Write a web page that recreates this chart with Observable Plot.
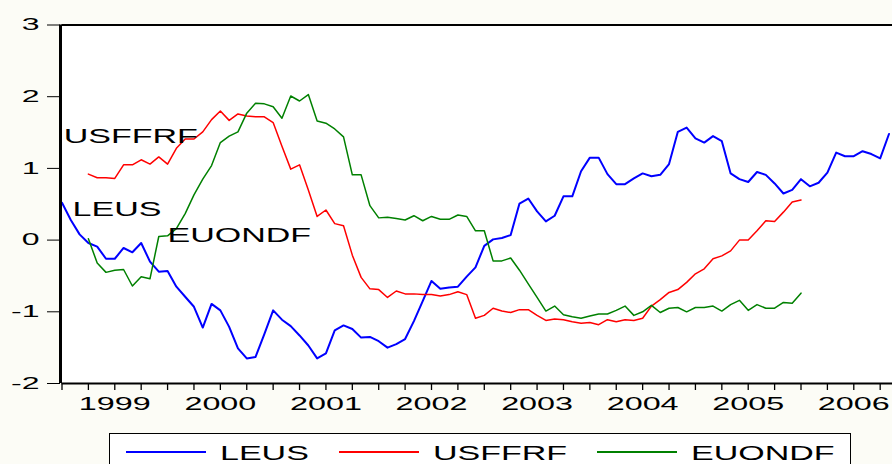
<!DOCTYPE html>
<html><head><meta charset="utf-8">
<script src="https://cdn.jsdelivr.net/npm/d3@7"></script>
<script src="https://cdn.jsdelivr.net/npm/@observablehq/plot@0.6"></script>
<style>
html,body{margin:0;padding:0;background:#fcfcf6;width:892px;height:464px;overflow:hidden;font-family:"Liberation Sans",Arial,sans-serif;}
#wrap{position:relative;width:892px;height:464px;}
#legend{position:absolute;left:109px;top:433px;width:742px;height:40px;border:1.5px solid #000;background:#fff;box-sizing:border-box}
.item{position:absolute;top:0;height:38px}
.sw{position:absolute;top:17px;left:0;width:80px;height:0;border-top:2px solid}
.lab{position:absolute;left:94px;top:9px;font-size:20px;line-height:20px;transform:scaleX(1.7);transform-origin:0 0;white-space:nowrap;color:#000}
</style></head><body><div id="wrap"><div id="chart"></div><div id="legend"></div></div>
<script>
// monthly data starting 1999-01 (index 0)
const years = [1999, 2000, 2001, 2002, 2003, 2004, 2005, 2006];
const yTicks = [-2, -1, 0, 1, 2, 3];
const seriesNames = ["LEUS", "USFFRF", "EUONDF"];
const seriesColors = ["#0000ff", "#ff0000", "#008000"];
const leusStart = 0;   // 1999M01
const leus = [0.52,0.28,0.08,-0.04,-0.09,-0.26,-0.26,-0.11,-0.17,-0.04,
  -0.30,-0.44,-0.43,-0.65,-0.79,-0.93,-1.22,-0.89,-0.98,-1.21,
  -1.51,-1.65,-1.63,-1.31,-0.98,-1.11,-1.20,-1.33,-1.47,-1.65,
  -1.58,-1.26,-1.19,-1.24,-1.36,-1.35,-1.41,-1.50,-1.45,-1.38,
  -1.13,-0.85,-0.57,-0.68,-0.66,-0.65,-0.51,-0.38,-0.08,0.01,
  0.03,0.07,0.51,0.58,0.40,0.26,0.34,0.61,0.61,0.96,
  1.15,1.15,0.92,0.78,0.78,0.86,0.93,0.89,0.91,1.06,
  1.51,1.57,1.42,1.36,1.45,1.38,0.93,0.85,0.81,0.95,
  0.91,0.79,0.65,0.70,0.85,0.75,0.80,0.94,1.22,1.17,
  1.17,1.24,1.20,1.14,1.48];
const usffrfStart = 3; // 1999M04
const usffrf = [0.92,0.87,0.87,0.86,1.05,1.05,1.12,1.06,1.16,1.06,
  1.28,1.41,1.41,1.51,1.68,1.80,1.67,1.76,1.73,1.72,
  1.72,1.64,1.31,0.99,1.05,0.70,0.33,0.42,0.23,0.20,
  -0.21,-0.52,-0.68,-0.69,-0.80,-0.71,-0.75,-0.75,-0.76,-0.76,
  -0.78,-0.76,-0.72,-0.76,-1.09,-1.05,-0.95,-0.99,-1.01,-0.97,
  -0.97,-1.05,-1.12,-1.10,-1.11,-1.14,-1.16,-1.15,-1.18,-1.11,
  -1.14,-1.11,-1.12,-1.09,-0.92,-0.83,-0.73,-0.69,-0.59,-0.47,
  -0.40,-0.26,-0.22,-0.15,0.00,0.00,0.13,0.27,0.26,0.39,
  0.53,0.56];
const euondfStart = 3; // 1999M04
const euondf = [0.02,-0.32,-0.45,-0.42,-0.41,-0.64,-0.51,-0.54,0.05,0.06,
  0.16,0.37,0.63,0.85,1.04,1.36,1.45,1.51,1.77,1.91,
  1.90,1.86,1.70,2.01,1.94,2.03,1.66,1.63,1.55,1.44,
  0.91,0.91,0.48,0.31,0.32,0.30,0.28,0.34,0.27,0.33,
  0.29,0.29,0.35,0.33,0.13,0.13,-0.29,-0.29,-0.25,-0.42,
  -0.61,-0.80,-0.99,-0.92,-1.04,-1.07,-1.09,-1.06,-1.03,-1.03,
  -0.98,-0.92,-1.05,-1.00,-0.91,-1.01,-0.95,-0.94,-1.00,-0.94,
  -0.94,-0.92,-0.99,-0.90,-0.84,-0.98,-0.90,-0.95,-0.95,-0.87,
  -0.88,-0.74];
// in-chart series labels (month index, value)
const labelNames = ["USFFRF", "LEUS", "EUONDF"];
const labelT = [0.2, 1.2, 12];
const labelV = [1.35, 0.33, -0.03];

const rows = [];
[[leus, leusStart], [usffrf, usffrfStart], [euondf, euondfStart]].forEach(([arr, s], k) => {
  arr.forEach((v, i) => rows.push({t: s + i, v, series: seriesNames[k]}));
});
const labels = labelNames.map((n, i) => ({n, t: labelT[i], v: labelV[i]}));
const quarterTicks = d3.range(0, 95, 3);
const yearMid = years.map(y => (y - years[0]) * 12 + 6);

const chart = Plot.plot({
  width: 892, height: 430,
  marginLeft: 61.5, marginRight: 0, marginTop: 24.5, marginBottom: 47,
  style: {background: "transparent", fontFamily: "'Liberation Sans', Arial, sans-serif", color: "#000"},
  x: {domain: [0, 94.4], axis: null},
  y: {domain: [-2, 3], axis: null},
  color: {domain: seriesNames, range: seriesColors},
  marks: [
    Plot.frame({fill: "#fff", stroke: "none"}),
    Plot.axisY({ticks: yTicks, tickSize: 13, tickPadding: 8, fontSize: 16, tickFormat: d => String(d), dx: -1.5, label: null}),
    Plot.axisX({ticks: quarterTicks, tickSize: 7, tickFormat: () => "", strokeWidth: 1.3, label: null}),
    Plot.axisX({ticks: yearMid, tickSize: 0, tickPadding: 13, fontSize: 19, tickFormat: t => String(years[0] + Math.floor(t / 12)), label: null}),
    Plot.line(rows, {x: "t", y: "v", z: "series", stroke: "series", strokeWidth: d => d.series === "LEUS" ? 2 : 1.5}),
    Plot.ruleY([3], {stroke: "#000", strokeWidth: 2}),
    Plot.ruleY([-2], {stroke: "#000", strokeWidth: 2}),
    Plot.ruleX([0], {stroke: "#000", strokeWidth: 3, dx: -1.5}),
    Plot.text(labels, {x: "t", y: "v", text: "n", textAnchor: "start", lineAnchor: "bottom", fontSize: 20, fill: "#000"})
  ]
});
document.getElementById("chart").appendChild(chart);

function stretch(sel, f) {
  sel.each(function () {
    const w = this.getComputedTextLength();
    this.setAttribute("textLength", w * f);
    this.setAttribute("lengthAdjust", "spacingAndGlyphs");
  });
}
const svg = d3.select(chart);
stretch(svg.selectAll('g[aria-label="y-axis tick label"] text'), 2.0);
stretch(svg.selectAll('g[aria-label="x-axis tick label"] text'), 1.7);
stretch(svg.selectAll('g[aria-label="text"] text'), 1.7);

const legend = d3.select("#legend");
const itemLeft = [16, 229, 487];
seriesNames.forEach((n, i) => {
  const it = legend.append("div").attr("class", "item").style("left", itemLeft[i] + "px");
  it.append("div").attr("class", "sw").style("border-top-color", seriesColors[i]);
  it.append("div").attr("class", "lab").text(n);
});
</script></body></html>
